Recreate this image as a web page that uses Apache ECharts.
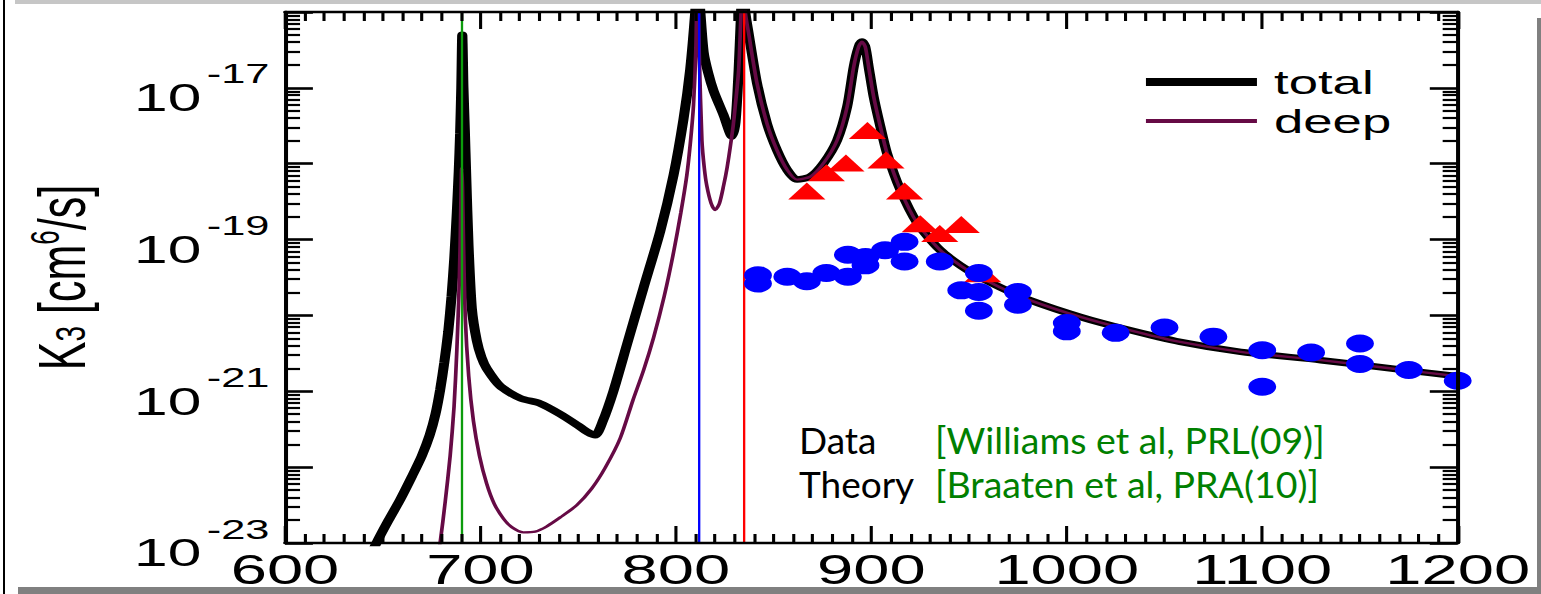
<!DOCTYPE html>
<html>
<head>
<meta charset="utf-8">
<script src="https://cdn.jsdelivr.net/npm/echarts@6/dist/echarts.min.js"></script>
<style>
html,body{margin:0;padding:0;background:#fff;width:1541px;height:594px;overflow:hidden;position:relative;}
#wrap{position:absolute;left:0;top:0;height:594px;transform-origin:0 0;}
#chart{width:100%;height:100%;}
.fr{position:absolute;}
</style>
</head>
<body>
<div id="wrap"><div id="chart"></div></div>
<div class="fr" style="left:15px;top:0;width:1526px;height:4px;background:#c6c6c6"></div>
<div class="fr" style="left:3px;top:0;width:2px;height:594px;background:#000"></div>
<div class="fr" style="left:1537px;top:18px;width:4px;height:576px;background:#808080"></div>
<div class="fr" style="left:18px;top:587px;width:1523px;height:7px;background:#808080"></div>
<script>
// ---------------- data (K3 in cm^6/s versus scattering length) ----------------
const xMin = 600, xMax = 1200, xStep = 100;
const yMinExp = -23, yMaxExp = -16;
const yLabelExponents = [-23, -21, -19, -17];
const minorMantissas = [2, 3, 4, 5, 6, 7, 8, 9];

// total (thick black) up to the 834 resonance
const totalHeadX = [644, 647.6, 653, 658.9, 665, 670, 674, 677, 679.4, 681.5, 683.5, 685.2, 686.6, 687.9, 688.9, 689.6, 690.2, 690.7, 691.3, 692.0, 692.7, 693.9, 695.6, 698.1, 700.5, 703.2, 710.1, 720.3, 730.5, 740.8, 749.3, 755, 758.7, 762.5, 768, 775, 783.4, 792, 798.8, 803.9, 807.3, 809.9, 811.0, 812.5, 814.2, 816.5, 819.3, 824.4, 828.7, 830.5, 832.1, 833.2, 834.3];
const totalHeadK = [7.08e-24, 1.10e-23, 2.0e-23, 3.72e-23, 7.59e-23, 1.41e-22, 2.63e-22, 5.01e-22, 1.05e-21, 2.40e-21, 6.03e-21, 1.78e-20, 5.62e-20, 2.24e-19, 7.94e-19, 2.51e-18, 1.0e-17, 5.01e-17, 1.0e-17, 2.82e-18, 7.08e-19, 8.32e-20, 1.23e-20, 4.68e-21, 2.82e-21, 2.0e-21, 1.17e-21, 8.13e-22, 6.92e-22, 5.01e-22, 3.63e-22, 2.88e-22, 2.63e-22, 3.98e-22, 1.0e-21, 4.17e-21, 2.29e-20, 1.29e-19, 7.08e-19, 3.89e-18, 1.74e-17, 1.0e-16, 3.16e-16, 1.0e-16, 2.95e-17, 1.58e-17, 9.12e-18, 4.37e-18, 2.29e-18, 3.55e-18, 1.70e-17, 7.94e-17, 3.16e-16];

// deep (thin maroon) up to the 834 resonance
const deepHeadX = [678.5, 679.4, 682, 684.5, 686.5, 687.9, 689.0, 689.6, 690.1, 690.4, 690.8, 691.3, 692.2, 694, 696.4, 699.5, 703.2, 707, 711.8, 716, 722, 728, 734, 741, 749.3, 757, 764, 771.5, 778, 783.5, 788.6, 794, 798.8, 802.5, 805.6, 807.5, 809, 810.2, 811.0, 812, 813.3, 814.5, 815.8, 818, 820.1, 822.3, 824.4, 826.2, 827.8, 829.3, 830.4, 832.1, 833.2, 834.3];
const deepHeadK = [7.94e-24, 1.02e-23, 3.55e-23, 1.41e-22, 6.31e-22, 3.39e-21, 2.0e-20, 8.51e-20, 4.47e-19, 8.71e-19, 5.01e-19, 1.0e-19, 9.77e-21, 1.58e-21, 4.07e-22, 1.41e-22, 6.03e-23, 3.31e-23, 2.09e-23, 1.62e-23, 1.38e-23, 1.41e-23, 1.66e-23, 2.19e-23, 3.16e-23, 5.25e-23, 1.0e-22, 2.40e-22, 7.59e-22, 1.91e-21, 5.13e-21, 1.78e-20, 6.76e-20, 2.24e-19, 7.08e-19, 2.0e-18, 5.89e-18, 3.16e-17, 3.16e-16, 2.51e-17, 2.04e-18, 8.91e-19, 5.13e-19, 3.02e-19, 2.45e-19, 3.02e-19, 5.13e-19, 8.91e-19, 1.66e-18, 3.16e-18, 5.89e-18, 1.70e-17, 7.94e-17, 3.16e-16];

// part where total and deep coincide
const tailX = [835.5, 837.2, 841.5, 846.6, 851.7, 856.9, 862, 868.8, 875.6, 882.5, 887.6, 891, 893.5, 895.2, 896.9, 898.6, 901.2, 904.6, 908, 914.9, 923.4, 935.3, 949, 966, 981.4, 1007, 1030, 1058, 1089, 1130, 1172.5, 1200];
const tailK = [1.0e-16, 5.25e-17, 1.15e-17, 3.39e-18, 1.51e-18, 8.32e-19, 6.17e-19, 6.76e-19, 1.02e-18, 2.04e-18, 5.62e-18, 1.91e-17, 3.47e-17, 4.07e-17, 3.47e-17, 1.91e-17, 7.59e-18, 3.09e-18, 1.38e-18, 4.47e-19, 1.66e-19, 7.24e-20, 3.98e-20, 2.34e-20, 1.58e-20, 9.55e-21, 6.61e-21, 4.47e-21, 3.31e-21, 2.57e-21, 1.91e-21, 1.58e-21];

// measured data: blue circles and red triangles
const circX = [842, 842, 857, 867, 877, 888, 888, 897, 897, 907, 917, 917, 935, 955, 946, 955, 955, 975, 975, 1000, 1000, 1025, 1050, 1075, 1100, 1100, 1125, 1150, 1150, 1175, 1200];
const circK = [3.39e-20, 2.63e-20, 3.24e-20, 2.82e-20, 3.63e-20, 3.24e-20, 6.31e-20, 5.89e-20, 4.57e-20, 7.24e-20, 9.33e-20, 5.13e-20, 5.13e-20, 3.63e-20, 2.14e-20, 2.04e-20, 1.15e-20, 2.04e-20, 1.38e-20, 7.94e-21, 6.17e-21, 5.89e-21, 6.92e-21, 5.25e-21, 3.47e-21, 1.15e-21, 3.24e-21, 4.27e-21, 2.29e-21, 1.91e-21, 1.38e-21];
const triX = [867, 877, 887, 898, 907.5, 917, 925, 935, 946, 957];
const triK = [4.37e-19, 7.59e-19, 1.02e-18, 2.75e-18, 1.12e-18, 4.37e-19, 1.62e-19, 1.20e-19, 1.58e-19, 3.55e-20];

// resonance positions (vertical lines)
const resonanceX = [690.6, 811.8, 834.5];
const resonanceColors = ['#0c9c0c', '#0000ff', '#ff0000'];

const legendNames = ['total', 'deep'];
const annotation = [
  ['Data', '[Williams et al, PRL(09)]'],
  ['Theory', '[Braaten et al, PRA(10)]']
];

// ---------------- layout (source figure is stretched horizontally) ----------------
const W = 1541, H = 594;
const LW = 994;            // layout width before horizontal stretch
const S = W / LW;          // horizontal stretch
const wrap = document.getElementById('wrap');
wrap.style.width = LW + 'px';
wrap.style.transform = 'scaleX(' + S + ')';

const lg = v => Math.log10(v);
const pairs = (xs, ks) => xs.map((x, i) => [x, lg(ks[i])]);
const totalData = pairs(totalHeadX.concat(tailX), totalHeadK.concat(tailK));
const deepData = pairs(deepHeadX.concat(tailX), deepHeadK.concat(tailK));
const circData = pairs(circX, circK);
const triData = pairs(triX, triK);

const minorY = [];
for (let d = yMinExp; d < yMaxExp; d++) minorMantissas.forEach(m => minorY.push(d + Math.log10(m)));

const FONT = '"Liberation Sans", Arial, Helvetica, sans-serif';
const black = '#000';

const plotLeft = 285 / S, plotRight = LW - 1457.7 / S, plotTop = 12, plotBottom = H - 543;

const baseX = (pos, labels) => ({
  type: 'value', min: xMin, max: xMax, interval: xStep, position: pos, z: 10,
  axisLine: { show: true, onZero: false, lineStyle: { color: black, width: 2.4 } },
  axisTick: { show: true, inside: true, length: 17, lineStyle: { color: black, width: 2 } },
  minorTick: { show: true, splitNumber: 10, length: 9, lineStyle: { color: black, width: 2 } },
  axisLabel: labels ? { show: true, margin: 5, color: black, fontSize: 42, fontFamily: FONT, formatter: v => String(v) } : { show: false },
  splitLine: { show: false }, minorSplitLine: { show: false }
});
const baseY = (pos) => ({
  type: 'value', min: yMinExp, max: yMaxExp, interval: 1, position: pos, z: 10,
  axisLine: { show: true, onZero: false, lineStyle: { color: black, width: 2.6 } },
  axisTick: { show: true, inside: true, length: 18, lineStyle: { color: black, width: 2.6 } },
  axisLabel: { show: false },
  splitLine: { show: false }
});
const minorYAxis = (pos) => ({
  type: 'value', min: yMinExp, max: yMaxExp, position: pos, z: 10,
  axisLine: { show: false },
  axisTick: { show: true, inside: true, length: 9.7, customValues: minorY, lineStyle: { color: black, width: 2.2 } },
  axisLabel: { show: false },
  splitLine: { show: false }
});

// main left axis: base "10" of the tick labels + axis title
const leftY = baseY('left');
leftY.axisLabel = {
  show: true, customValues: yLabelExponents, margin: 54, verticalAlign: 'top',
  formatter: () => '10',
  fontSize: 39, lineHeight: 20, fontFamily: FONT, color: black
};
leftY.name = '{m|K}{sub|3}{m| [cm}{sup|6}{m|/s]}';
leftY.nameLocation = 'middle';
leftY.nameRotate = 90;
leftY.nameGap = 108;
leftY.nameTextStyle = {
  rich: {
    m: { fontSize: 43, lineHeight: 43, padding: [19, 0, 14, 0], fontFamily: FONT, color: black },
    sub: { fontSize: 28, lineHeight: 28, verticalAlign: 'bottom', fontFamily: FONT, color: black },
    sup: { fontSize: 26, lineHeight: 26, verticalAlign: 'top', fontFamily: FONT, color: black }
  }
};
// exponent (superscript) part of the tick labels
const expY = {
  type: 'value', min: yMinExp, max: yMaxExp, interval: 1, position: 'left', z: 10,
  axisLine: { show: false }, axisTick: { show: false }, splitLine: { show: false },
  axisLabel: {
    show: true, customValues: yLabelExponents, margin: 10, verticalAlign: 'bottom',
    formatter: v => String(v),
    fontSize: 28, lineHeight: 28, fontFamily: FONT, color: black
  }
};

const annFont = 'Lato, "Open Sans", sans-serif';
const graphics = [];
annotation.forEach((row, i) => {
  const y = 439 + i * 44;
  graphics.push({ type: 'text', x: 799 / S, y: y, scaleX: 1 / S, z: 20,
    style: { text: row[0], fill: '#000', fontSize: 37, fontFamily: annFont, verticalAlign: 'middle', align: 'left' } });
  graphics.push({ type: 'text', x: 935 / S, y: y, scaleX: 1 / S, z: 20,
    style: { text: row[1], fill: '#008000', fontSize: 37.5, fontFamily: annFont, verticalAlign: 'middle', align: 'left' } });
});

const chart = echarts.init(document.getElementById('chart'), null, { renderer: 'svg', width: LW, height: H });
chart.setOption({
  animation: false,
  backgroundColor: 'transparent',
  grid: { left: plotLeft, right: plotRight, top: plotTop, bottom: plotBottom, containLabel: false, outerBoundsMode: 'none' },
  xAxis: [baseX('bottom', true), baseX('top', false)],
  yAxis: [leftY, baseY('right'), minorYAxis('left'), minorYAxis('right'), expY],
  legend: {
    data: [
      { name: legendNames[0], lineStyle: { width: 8 } },
      { name: legendNames[1], lineStyle: { width: 4 } }
    ],
    orient: 'vertical', left: 1132 / S, top: 60,
    itemWidth: 111 / S, itemHeight: 14, itemGap: 5,
    itemStyle: { opacity: 0 },
    selectedMode: false,
    textStyle: { fontSize: 34, lineHeight: 34, fontFamily: FONT, color: black, padding: [0, 0, 0, 6] }
  },
  graphic: graphics,
  series: [
    {
      name: 'resonances', type: 'line', data: [], z: 1, silent: true,
      markLine: {
        silent: true, symbol: ['none', 'none'], label: { show: false }, animation: false,
        data: resonanceX.map((x, i) => ({ xAxis: x, lineStyle: { color: resonanceColors[i], width: 1.5, type: 'solid' } }))
      }
    },
    {
      name: 'total', type: 'line', data: totalData, symbol: 'none', showSymbol: false, z: 2,
      smooth: 0.25,
      lineStyle: { color: '#000', width: 6.5 }, itemStyle: { color: '#000' }
    },
    {
      name: 'deep', type: 'line', data: deepData, symbol: 'none', showSymbol: false, z: 3,
      smooth: 0.25,
      lineStyle: { color: '#660a45', width: 2.4 }, itemStyle: { color: '#660a45' }
    },
    {
      name: 'Williams et al (triangles)', type: 'scatter', data: triData, symbol: 'triangle',
      symbolSize: [24, 17], itemStyle: { color: '#ff0000', opacity: 1 }, z: 4
    },
    {
      name: 'Williams et al (circles)', type: 'scatter', data: circData, symbol: 'circle',
      symbolSize: 18, itemStyle: { color: '#0000ff', opacity: 1 }, z: 5
    }
  ]
});
</script>
</body>
</html>
